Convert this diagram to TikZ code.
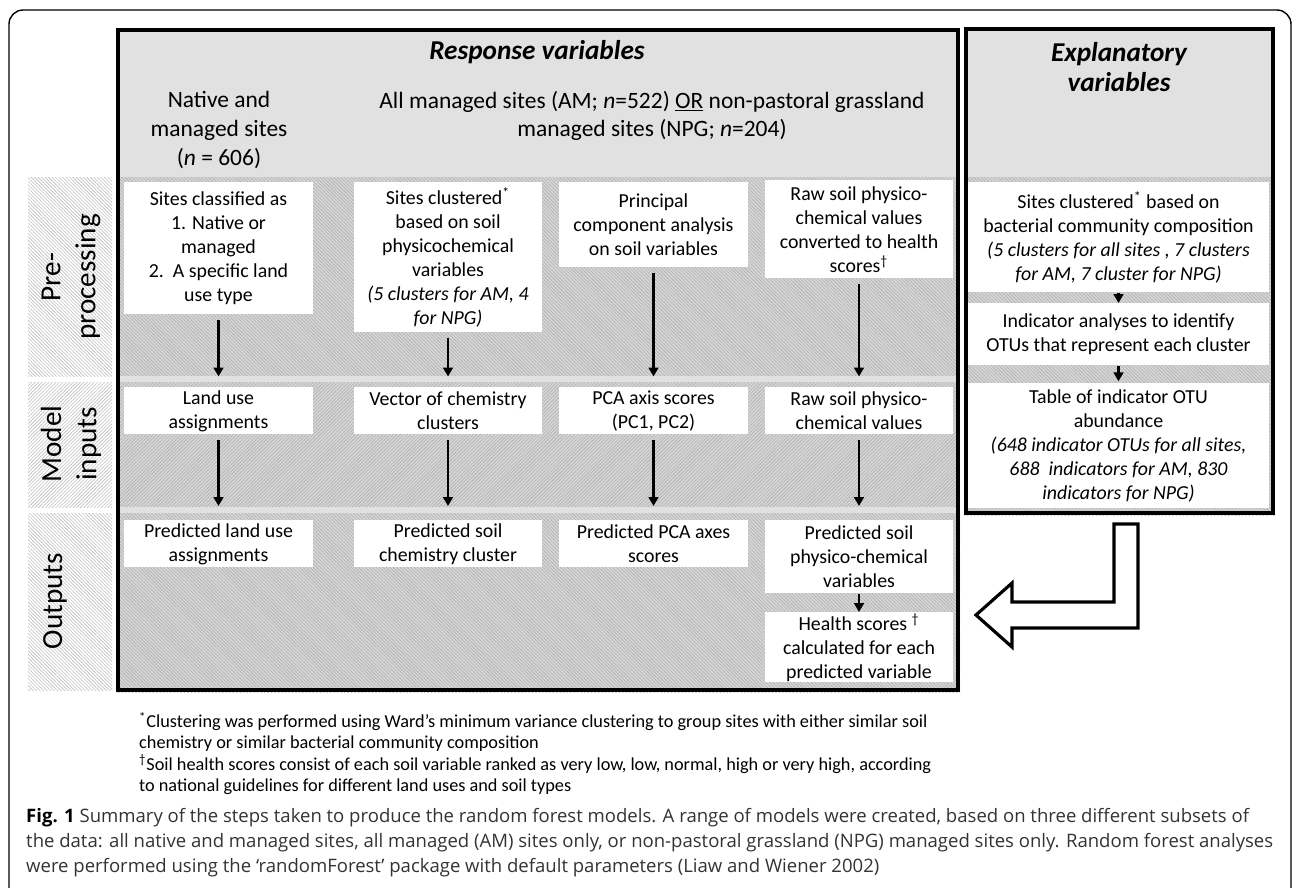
\documentclass[tikz,border=0pt]{standalone}
\usepackage{fontspec}
\setmainfont{Carlito}
\newfontfamily\capfont{Open Sans}
\usetikzlibrary{arrows.meta,patterns.meta}
\definecolor{hdrgray}{HTML}{E1E1E1}
\definecolor{rowgray}{HTML}{D6D6D6}
\definecolor{hatchgray}{HTML}{B0B0B0}
\definecolor{capgray}{HTML}{333333}

\begin{document}
\begin{tikzpicture}[x=0.02cm,y=-0.02cm,
        wbox/.style={fill=white,inner sep=0pt,align=center,anchor=north,font=\fontsize{11.3}{13.66}\selectfont},
        rowbs/.style={fill=rowgray,postaction={pattern={Lines[angle=-45,distance=1.4pt,line width=0.35pt]},pattern color=hatchgray}},
        rowfs/.style={fill=rowgray,postaction={pattern={Lines[angle=45,distance=1.4pt,line width=0.35pt]},pattern color=hatchgray}},
        labbs/.style={fill=white,postaction={pattern={Lines[angle=-45,distance=1.4pt,line width=0.35pt]},pattern color=hatchgray!80}},
        labfs/.style={fill=white,postaction={pattern={Lines[angle=45,distance=1.4pt,line width=0.35pt]},pattern color=hatchgray!80}},
        rowlab/.style={rotate=90,align=center,font=\fontsize{16.6}{20}\selectfont},
        frame/.style={line width=2.4pt},
        arr/.style={-{Triangle[length=5pt,width=5.5pt]},line width=1.2pt}]
        \useasboundingbox (0,0) rectangle (1292,887);
        \draw[line width=0.8pt,rounded corners=8pt] (9,950) -- (9,10) -- (1291,10) -- (1291,950);

        \fill[labbs] (28,177) rectangle (112,376);
        \fill[labfs] (28,382) rectangle (112,507);
        \fill[labbs] (28,513) rectangle (112,690);
        \node[rowlab] (lpre) at (71,277) {Pre-\\processing};
        \node[rowlab] (linp) at (71,444) {Model\\inputs};
        \node[rowlab] (lout) at (55,601) {Outputs};

        \fill[hdrgray] (116,28) rectangle (960,177);
        \fill[rowbs] (116,177) rectangle (960,376);
        \fill[hdrgray] (116,376) rectangle (960,382);
        \fill[rowfs] (116,382) rectangle (960,507);
        \fill[hdrgray] (116,507) rectangle (960,513);
        \fill[rowbs] (116,513) rectangle (960,692);

        \fill[hdrgray] (964,27) rectangle (1275,177);
        \fill[rowbs] (964,177) rectangle (1275,515);

        \node[font=\fontsize{15.5}{18}\selectfont\bfseries\itshape] (resp) at (537,52) {Response variables};
        \node[align=center,font=\fontsize{13.35}{16.4}\selectfont] (hnat) at (219,130) {Native and\\managed sites\\(\textit{n} = 606)};
        \node[align=center,font=\fontsize{13.35}{16.4}\selectfont] (hman) at (652,116) {All managed sites (AM; \textit{n}=522) \underline{OR} non-pastoral grassland\\managed sites (NPG; \textit{n}=204)};
        \node[align=center,font=\fontsize{15.5}{17}\selectfont\bfseries\itshape] (expl) at (1119,67) {Explanatory\\variables};

        \node[wbox,minimum width=3.78cm,minimum height=2.64cm] (pre1) at (218.5,182) {Sites classified as\\1. Native or\\managed\\2.\ \ A specific land\\use type};
        \node[wbox,minimum width=3.76cm,minimum height=3.0cm] (pre2) at (448,182) {Sites clustered\textsuperscript{*}\\based on soil\\physicochemical\\variables\\\textit{(5 clusters for AM, 4}\\\textit{for NPG)}};
        \node[wbox,minimum width=3.78cm,minimum height=1.7cm] (pre3) at (653.5,182) {Principal\\component analysis\\on soil variables};
        \node[wbox,minimum width=3.76cm,minimum height=1.96cm] (pre4) at (859,180) {Raw soil physico-\\chemical values\\converted to health\\scores\textsuperscript{†}};

        \node[wbox,minimum width=3.78cm,minimum height=0.94cm] (inp1) at (218.5,387) {Land use\\assignments};
        \node[wbox,minimum width=3.76cm,minimum height=0.94cm] (inp2) at (448,387) {Vector of chemistry\\clusters};
        \node[wbox,minimum width=3.78cm,minimum height=0.94cm] (inp3) at (653.5,387) {PCA axis scores\\(PC1, PC2)};
        \node[wbox,minimum width=3.76cm,minimum height=0.94cm] (inp4) at (859,387) {Raw soil physico-\\chemical values};

        \node[wbox,minimum width=3.78cm,minimum height=0.94cm] (out1) at (218.5,520) {Predicted land use\\assignments};
        \node[wbox,minimum width=3.76cm,minimum height=0.94cm] (out2) at (448,520) {Predicted soil\\chemistry cluster};
        \node[wbox,minimum width=3.78cm,minimum height=0.94cm] (out3) at (653.5,520) {Predicted PCA axes\\scores};
        \node[wbox,minimum width=3.76cm,minimum height=1.46cm] (out4) at (859,520) {Predicted soil\\physico-chemical\\variables};
        \node[wbox,minimum width=3.76cm,minimum height=1.4cm] (health) at (859,612) {Health scores \textsuperscript{†}\\calculated for each\\predicted variable};

        \node[wbox,minimum width=6.02cm,minimum height=2.2cm] (clusb) at (1118.5,182) {Sites clustered\textsuperscript{*} based on\\bacterial community composition\\\textit{(5 clusters for all sites , 7 clusters}\\\textit{for AM, 7 cluster for NPG)}};
        \node[wbox,minimum width=6.02cm,minimum height=1.24cm] (indic) at (1118.5,303) {Indicator analyses to identify\\OTUs that represent each cluster};
        \node[wbox,minimum width=6.02cm,minimum height=2.5cm] (otutab) at (1118.5,383) {Table of indicator OTU\\abundance\\\textit{(648 indicator OTUs for all sites,}\\\textit{688\ \ indicators for AM, 830}\\\textit{indicators for NPG)}};

        \foreach \a/\b in {pre1/inp1,pre2/inp2,pre3/inp3,pre4/inp4}
            \draw[arr,shorten <=3pt,shorten >=6pt] (\a.south) -- (\a.south |- \b.north);
        \foreach \a/\b in {inp1/out1,inp2/out2,inp3/out3,inp4/out4}
            \draw[arr,shorten <=3pt,shorten >=8pt] (\a) -- (\b);
        \draw[arr] (out4) -- (health);
        \draw[arr] (clusb) -- (indic);
        \draw[arr,shorten >=1pt] (indic) -- (otutab);

        \draw[frame] (118,30) rectangle (958,690);
        \draw[frame] (966,29) rectangle (1273,513);

        \draw[line width=1.8pt,fill=white,line join=miter] (1114,524) -- (1138,524) -- (1138,628) -- (1012,628) -- (1012,647) -- (976,615) -- (1012,583) -- (1012,602) -- (1114,602) -- cycle;

        \node[anchor=north west,align=left,font=\fontsize{10.4}{12.1}\selectfont] (notes) at (133,706) {\textsuperscript{*}Clustering was performed using Ward’s minimum variance clustering to group sites with either similar soil\\chemistry or similar bacterial community composition\\\textsuperscript{†}Soil health scores consist of each soil variable ranked as very low, low, normal, high or very high, according\\to national guidelines for different land uses and soil types};

        \node[anchor=north west,align=left,text=capgray,font=\capfont\fontsize{10.55}{14.2}\selectfont] (caption) at (20,802) {\textbf{\color{black}Fig. 1} Summary of the steps taken to produce the random forest models. A range of models were created, based on three different subsets of\\the data: all native and managed sites, all managed (AM) sites only, or non-pastoral grassland (NPG) managed sites only. Random forest analyses\\were performed using the ‘randomForest’ package with default parameters (Liaw and Wiener 2002)};
    \end{tikzpicture}
\end{document}
